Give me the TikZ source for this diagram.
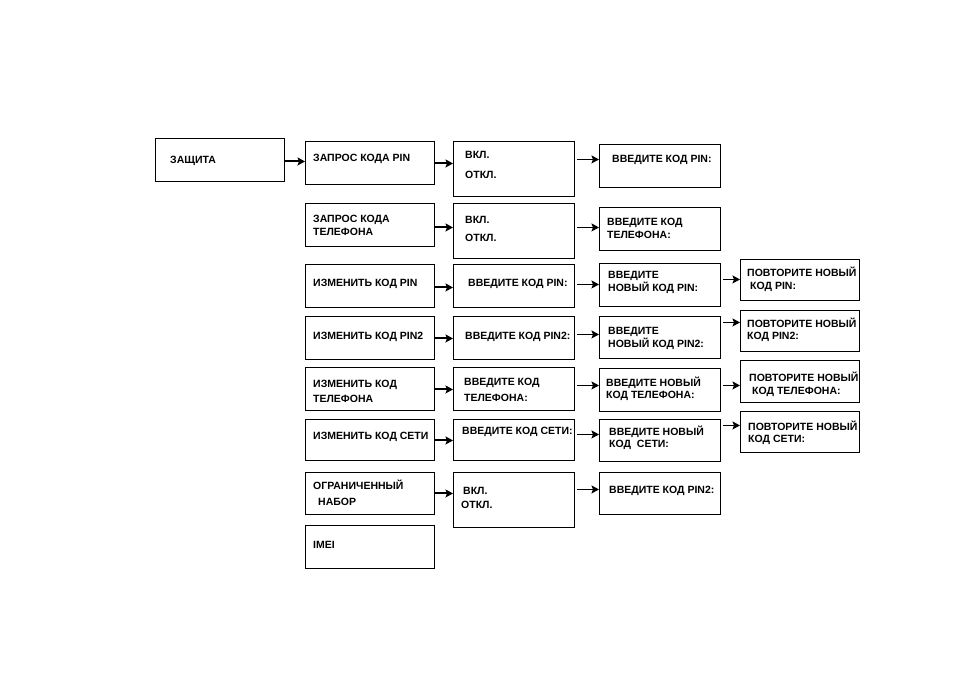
\documentclass[tikz,border=0pt]{standalone}
\usepackage{fontspec}
\setsansfont{Liberation Sans}
\usetikzlibrary{arrows.meta}
\tikzset{
menubox/.style 2 args={draw,line width=.9pt,anchor=north west,inner sep=0pt,minimum width=#1pt,minimum height=#2pt},
txt/.style={font=\sffamily\bfseries\fontsize{10.5}{12}\selectfont,align=left,inner sep=0pt,anchor=west,yshift=-1.5pt},
flow/.style={-{Stealth[length=7.5pt,width=8pt,inset=1.5pt]},line width=2pt},
flowthin/.style={-{Stealth[length=7.5pt,width=8pt,inset=1.5pt]},line width=1.3pt,shorten <=2pt}
}
\begin{document}
\begin{tikzpicture}[x=1pt,y=-1pt]
\useasboundingbox[fill=white](0,0) rectangle (954,673);
\node[menubox={129}{43}](zas) at (155,138){};
\node[menubox={129}{43}](q1) at (305,141){};
\node[menubox={129}{43}](q2) at (305,203){};
\node[menubox={129}{43}](c1) at (305,264){};
\node[menubox={129}{43}](c2) at (305,316){};
\node[menubox={129}{43}](c3) at (305,367){};
\node[menubox={129}{41}](c4) at (305,419){};
\node[menubox={129}{42}](o1) at (305,472){};
\node[menubox={129}{43}](im) at (305,525){};
\node[menubox={121}{55}](v1) at (453,141){};
\node[menubox={121}{55}](v2) at (453,203){};
\node[menubox={121}{43}](e1) at (453,264){};
\node[menubox={121}{43}](e2) at (453,316){};
\node[menubox={121}{43}](e3) at (453,367){};
\node[menubox={121}{41}](e4) at (453,419){};
\node[menubox={121}{55}](v3) at (453,472){};
\node[menubox={121}{43}](p1) at (599,144){};
\node[menubox={121}{43}](p2) at (599,207){};
\node[menubox={121}{43}](n1) at (599,263){};
\node[menubox={121}{42}](n2) at (599,316){};
\node[menubox={121}{43}](n3) at (599,368){};
\node[menubox={121}{42}](n4) at (599,419){};
\node[menubox={121}{42}](p3) at (599,472){};
\node[menubox={119}{41}](r1) at (740,259){};
\node[menubox={119}{41}](r2) at (740,310){};
\node[menubox={119}{42}](r3) at (740,360){};
\node[menubox={119}{41}](r4) at (740,411){};
\node[txt](zast) at (170,159){ЗАЩИТА};
\node[txt](q1t) at (313,157){ЗАПРОС КОДА PIN};
\node[txt](q2t) at (313,223.5){ЗАПРОС КОДА\\[1pt]ТЕЛЕФОНА};
\node[txt](c1t) at (313,282){ИЗМЕНИТЬ КОД PIN};
\node[txt](c2t) at (313,335){ИЗМЕНИТЬ КОД PIN2};
\node[txt](c3t) at (313,390){ИЗМЕНИТЬ КОД\\[3pt]ТЕЛЕФОНА};
\node[txt](c4t) at (313,435){ИЗМЕНИТЬ КОД СЕТИ};
\node[txt](o1t) at (313,491){ОГРАНИЧЕННЫЙ\\[4pt]\hspace*{5pt}НАБОР};
\node[txt](imt) at (313,543){IMEI};
\node[txt](v1t) at (465,163){ВКЛ.\\[8pt]ОТКЛ.};
\node[txt](v2t) at (465,227){ВКЛ.\\[6pt]ОТКЛ.};
\node[txt](e1t) at (468,282){ВВЕДИТЕ КОД PIN:};
\node[txt](e2t) at (465,335){ВВЕДИТЕ КОД PIN2:};
\node[txt](e3t) at (464,388){ВВЕДИТЕ КОД\\[4pt]ТЕЛЕФОНА:};
\node[txt](e4t) at (462,430){ВВЕДИТЕ КОД СЕТИ:};
\node[txt](v3t) at (461,496.5){\hspace*{2pt}ВКЛ.\\[2pt]ОТКЛ.};
\node[txt](p1t) at (612,158){ВВЕДИТЕ КОД PIN:};
\node[txt](p2t) at (607,226.5){ВВЕДИТЕ КОД\\[1pt]ТЕЛЕФОНА:};
\node[txt](n1t) at (608,280.5){ВВЕДИТЕ\\[1pt]НОВЫЙ КОД PIN:};
\node[txt](n2t) at (608,336.5){ВВЕДИТЕ\\[1pt]НОВЫЙ КОД PIN2:};
\node[txt](n3t) at (606,387){ВВЕДИТЕ НОВЫЙ\\КОД ТЕЛЕФОНА:};
\node[txt](n4t) at (609,436){ВВЕДИТЕ НОВЫЙ\\КОД\ \ СЕТИ:};
\node[txt](p3t) at (609,489){ВВЕДИТЕ КОД PIN2:};
\node[txt](r1t) at (747,277.5){ПОВТОРИТЕ НОВЫЙ\\[1pt]\hspace*{3pt}КОД PIN:};
\node[txt](r2t) at (747,328.5){ПОВТОРИТЕ НОВЫЙ\\КОД PIN2:};
\node[txt](r3t) at (749,382.5){ПОВТОРИТЕ НОВЫЙ\\[1pt]\hspace*{3pt}КОД ТЕЛЕФОНА:};
\node[txt](r4t) at (748,431){ПОВТОРИТЕ НОВЫЙ\\КОД СЕТИ:};
\draw[flow]([yshift=-1.5pt]zas.east)--([yshift=1.5pt]q1.west);
\draw[flow]([yshift=-.5pt]q1.east)--([yshift=5.5pt]v1.west);
\draw[flow]([yshift=-2.5pt]q2.east)--([yshift=3.5pt]v2.west);
\draw[flow]([yshift=-1.5pt]c1.east)--([yshift=-1.5pt]e1.west);
\draw[flow]([yshift=-.5pt]c2.east)--([yshift=-.5pt]e2.west);
\draw[flow]([yshift=-.5pt]c3.east)--([yshift=-.5pt]e3.west);
\draw[flow]([yshift=-.5pt]c4.east)--([yshift=-.5pt]e4.west);
\draw[flow](o1.east)--([yshift=6.5pt]v3.west);
\draw[flowthin]([yshift=9.5pt]v1.east)--([yshift=6.5pt]p1.west);
\draw[flowthin]([yshift=3.5pt]v2.east)--([yshift=1.5pt]p2.west);
\draw[flowthin]([yshift=1.5pt]e1.east)--([yshift=.5pt]n1.west);
\draw[flowthin]([yshift=3.5pt]e2.east)--([yshift=3pt]n2.west);
\draw[flowthin]([yshift=3.5pt]e3.east)--([yshift=4.5pt]n3.west);
\draw[flowthin]([yshift=5.5pt]e4.east)--([yshift=6pt]n4.west);
\draw[flowthin]([yshift=10.5pt]v3.east)--([yshift=4pt]p3.west);
\draw[flowthin]([yshift=5.5pt]n1.east)--([yshift=.5pt]r1.west);
\draw[flowthin]([yshift=15pt]n2.east)--([yshift=8.5pt]r2.west);
\draw[flowthin]([yshift=4.5pt]n3.east)--([yshift=-4pt]r3.west);
\draw[flowthin]([yshift=15pt]n4.east)--([yshift=6.5pt]r4.west);
\end{tikzpicture}
\end{document}
